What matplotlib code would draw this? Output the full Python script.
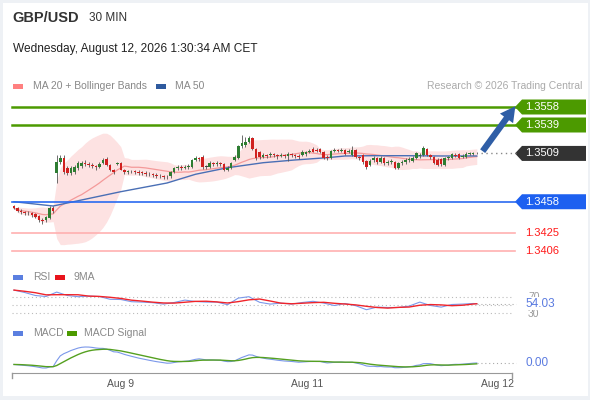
import numpy as np
import pandas as pd
import matplotlib
matplotlib.use('Agg')
import matplotlib.pyplot as plt
import matplotlib.transforms as mtransforms
from matplotlib.patches import Polygon, Rectangle

plt.rcParams['font.family'] = ['Liberation Sans', 'DejaVu Sans']

# GBP/USD 30 min candles
opens = [1.3454, 1.3451, 1.3448, 1.3447, 1.3446, 1.3446, 1.3445, 1.3443, 1.3439, 1.3439,
         1.3441, 1.3451, 1.3488, 1.3500, 1.3504, 1.3494, 1.3488, 1.3489, 1.3494, 1.3496,
         1.3499, 1.3498, 1.3497, 1.3496, 1.3495, 1.3499, 1.3503, 1.3497, 1.3492, 1.3498,
         1.3499, 1.3492, 1.3489, 1.3490, 1.3490, 1.3489, 1.3489, 1.3488, 1.3487, 1.3487,
         1.3486, 1.3485, 1.3485, 1.3484, 1.3485, 1.3489, 1.3494, 1.3495, 1.3494, 1.3495,
         1.3495, 1.3502, 1.3504, 1.3505, 1.3495, 1.3495, 1.3499, 1.3498, 1.3499, 1.3498,
         1.3492, 1.3494, 1.3502, 1.3504, 1.3517, 1.3518, 1.3521, 1.3525, 1.3514, 1.3511,
         1.3505, 1.3507, 1.3507, 1.3508, 1.3507, 1.3506, 1.3507, 1.3506, 1.3508, 1.3507,
         1.3506, 1.3507, 1.3508, 1.3511, 1.3514, 1.3513, 1.3514, 1.3511, 1.3505, 1.3504,
         1.3512, 1.3513, 1.3512, 1.3513, 1.3511, 1.3507, 1.3513, 1.3505, 1.3507, 1.3501,
         1.3497, 1.3502, 1.3504, 1.3500, 1.3504, 1.3499, 1.3500, 1.3500, 1.3494, 1.3499,
         1.3500, 1.3502, 1.3501, 1.3504, 1.3506, 1.3507, 1.3514, 1.3507, 1.3505, 1.3502,
         1.3503, 1.3497, 1.3504, 1.3504, 1.3507, 1.3508, 1.3505, 1.3505, 1.3508, 1.3508,
         1.3509]
closes = [1.3451, 1.3448, 1.3447, 1.3446, 1.3446, 1.3444, 1.3442, 1.3439, 1.3438, 1.3442,
          1.3451, 1.3448, 1.3500, 1.3504, 1.3489, 1.3488, 1.3494, 1.3495, 1.3499, 1.3499,
          1.3498, 1.3497, 1.3496, 1.3495, 1.3498, 1.3502, 1.3497, 1.3492, 1.3489, 1.3499,
          1.3492, 1.3489, 1.3490, 1.3490, 1.3489, 1.3488, 1.3488, 1.3487, 1.3487, 1.3486,
          1.3485, 1.3485, 1.3484, 1.3484, 1.3489, 1.3494, 1.3495, 1.3494, 1.3495, 1.3496,
          1.3502, 1.3504, 1.3503, 1.3495, 1.3495, 1.3499, 1.3498, 1.3499, 1.3498, 1.3492,
          1.3494, 1.3499, 1.3505, 1.3517, 1.3520, 1.3521, 1.3525, 1.3514, 1.3504, 1.3505,
          1.3507, 1.3506, 1.3508, 1.3507, 1.3506, 1.3507, 1.3506, 1.3508, 1.3507, 1.3506,
          1.3505, 1.3511, 1.3511, 1.3512, 1.3511, 1.3512, 1.3511, 1.3504, 1.3504, 1.3512,
          1.3513, 1.3512, 1.3513, 1.3508, 1.3512, 1.3513, 1.3505, 1.3504, 1.3500, 1.3495,
          1.3501, 1.3504, 1.3500, 1.3504, 1.3499, 1.3500, 1.3501, 1.3494, 1.3499, 1.3500,
          1.3502, 1.3503, 1.3504, 1.3509, 1.3507, 1.3515, 1.3507, 1.3505, 1.3499, 1.3497,
          1.3498, 1.3504, 1.3505, 1.3508, 1.3506, 1.3504, 1.3506, 1.3508, 1.3509, 1.3509,
          1.3509]
highs = [1.3455, 1.3452, 1.3450, 1.3448, 1.3448, 1.3447, 1.3446, 1.3444, 1.3441, 1.3443,
         1.3453, 1.3454, 1.3507, 1.3507, 1.3507, 1.3496, 1.3496, 1.3497, 1.3501, 1.3501,
         1.3502, 1.3500, 1.3499, 1.3497, 1.3500, 1.3504, 1.3505, 1.3498, 1.3493, 1.3500,
         1.3500, 1.3493, 1.3492, 1.3492, 1.3491, 1.3491, 1.3490, 1.3490, 1.3489, 1.3488,
         1.3488, 1.3487, 1.3486, 1.3486, 1.3490, 1.3495, 1.3497, 1.3497, 1.3497, 1.3498,
         1.3503, 1.3506, 1.3505, 1.3507, 1.3497, 1.3501, 1.3500, 1.3501, 1.3500, 1.3499,
         1.3496, 1.3500, 1.3507, 1.3518, 1.3528, 1.3526, 1.3527, 1.3526, 1.3515, 1.3512,
         1.3509, 1.3508, 1.3510, 1.3509, 1.3508, 1.3509, 1.3508, 1.3510, 1.3509, 1.3508,
         1.3508, 1.3513, 1.3512, 1.3514, 1.3516, 1.3515, 1.3515, 1.3512, 1.3507, 1.3513,
         1.3515, 1.3514, 1.3515, 1.3514, 1.3514, 1.3517, 1.3514, 1.3506, 1.3508, 1.3502,
         1.3503, 1.3506, 1.3505, 1.3506, 1.3505, 1.3502, 1.3503, 1.3501, 1.3500, 1.3502,
         1.3504, 1.3505, 1.3506, 1.3511, 1.3509, 1.3517, 1.3515, 1.3508, 1.3506, 1.3504,
         1.3504, 1.3505, 1.3506, 1.3509, 1.3509, 1.3509, 1.3508, 1.3510, 1.3511, 1.3511,
         1.3511]
lows = [1.3450, 1.3447, 1.3445, 1.3444, 1.3444, 1.3442, 1.3441, 1.3437, 1.3435, 1.3437,
        1.3440, 1.3446, 1.3478, 1.3498, 1.3487, 1.3486, 1.3486, 1.3487, 1.3492, 1.3494,
        1.3496, 1.3495, 1.3494, 1.3492, 1.3494, 1.3498, 1.3496, 1.3490, 1.3487, 1.3497,
        1.3491, 1.3487, 1.3487, 1.3488, 1.3487, 1.3486, 1.3486, 1.3485, 1.3485, 1.3484,
        1.3483, 1.3483, 1.3482, 1.3482, 1.3483, 1.3488, 1.3492, 1.3492, 1.3493, 1.3493,
        1.3494, 1.3501, 1.3501, 1.3493, 1.3493, 1.3494, 1.3496, 1.3496, 1.3496, 1.3490,
        1.3490, 1.3493, 1.3501, 1.3503, 1.3515, 1.3516, 1.3520, 1.3513, 1.3502, 1.3503,
        1.3504, 1.3504, 1.3505, 1.3505, 1.3503, 1.3505, 1.3504, 1.3501, 1.3505, 1.3504,
        1.3503, 1.3506, 1.3506, 1.3509, 1.3510, 1.3510, 1.3509, 1.3503, 1.3502, 1.3503,
        1.3510, 1.3510, 1.3511, 1.3507, 1.3509, 1.3506, 1.3504, 1.3502, 1.3498, 1.3493,
        1.3496, 1.3500, 1.3498, 1.3499, 1.3497, 1.3497, 1.3498, 1.3493, 1.3493, 1.3497,
        1.3498, 1.3500, 1.3500, 1.3503, 1.3504, 1.3506, 1.3506, 1.3503, 1.3498, 1.3496,
        1.3496, 1.3496, 1.3502, 1.3503, 1.3505, 1.3503, 1.3504, 1.3504, 1.3507, 1.3507,
        1.3508]

# MA 50 (history before the window is not shown)
ma50_idx = [0, 11, 30, 43, 51, 60, 70, 79, 88, 93, 101, 110, 120, 130]
ma50_vals = [1.3458, 1.34535, 1.34686, 1.34778, 1.3487, 1.34939, 1.34992, 1.35021,
             1.35045, 1.35063, 1.35066, 1.35066, 1.35063, 1.35063]

# RSI sampled every third candle
rsi_idx = list(range(0, 130, 3)) + [130]
rsi_vals = [88, 82, 74.5, 72, 83, 74.5, 71.5, 73, 72, 65, 64.5, 59, 58, 56.5, 53, 57, 63,
            59.5, 58, 58, 51.5, 68, 71.5, 57.5, 53, 55.5, 53, 57, 60, 55.5, 49.5, 54.5,
            49, 39, 45.5, 44.5, 44.5, 48, 58, 49.5, 45.5, 52, 53, 54.5, 54.03]

resist = [1.3558, 1.3539]
pivot = 1.3458
support = [1.3425, 1.3406]
last_price = 1.3509

tick_pos = [29.8, 82.3, 135.7]
tick_labels = ['Aug 9', 'Aug 11', 'Aug 12']

W, H = 590, 400
PX = 9474.0  # pixels per price unit in main panel


def fx(x):
    return x / W


def fy(y):
    return 1 - y / H


c = pd.Series(closes)
ma20 = c.rolling(20, min_periods=1).mean()
sd20 = c.rolling(20, min_periods=1).std(ddof=0)
macd = c.ewm(span=12, adjust=False).mean() - c.ewm(span=26, adjust=False).mean()
signal = macd.ewm(span=9, adjust=False).mean()
rsi = pd.Series(rsi_vals)
rsi_ma = rsi.rolling(3, min_periods=1).mean()

n = len(closes)
x = np.arange(n)
xlim = (-0.56, 139.9)

fig = plt.figure(figsize=(W / 100, H / 100), dpi=100, facecolor='#eef1f5')
fig.patches.append(Rectangle((fx(3), fy(396)), fx(585), 393 / H, transform=fig.transFigure,
                             facecolor='white', edgecolor='none', zorder=-5))

# header
fig.text(fx(12), fy(18), 'GBP/USD', fontsize=10.5, fontweight='bold', color='#333', va='center')
fig.text(fx(89), fy(18), '30 MIN', fontsize=8.5, color='#333', va='center')
fig.text(fx(13), fy(49), 'Wednesday, August 12, 2026 1:30:34 AM CET', fontsize=8.6, color='#222', va='center')


def legend_item(xr, y, col, label, xt):
    fig.patches.append(Rectangle((fx(xr), fy(y + 2.5)), fx(10), 5 / H, transform=fig.transFigure,
                                 facecolor=col, edgecolor='none'))
    fig.text(fx(xt), fy(y), label, fontsize=7.5, color='#888', va='center')


legend_item(13, 86, '#ff8080', 'MA 20 + Bollinger Bands', 33)
legend_item(156, 86, '#2f5a9e', 'MA 50', 175)
fig.text(fx(582), fy(86), 'Research \u00a9 2026 Trading Central', fontsize=7.5, color='#aaa',
         va='center', ha='right')
legend_item(13, 277, '#5b7fe0', 'RSI', 33)
legend_item(55, 277, '#e8141c', '9MA', 73)
legend_item(13, 333, '#5b7fe0', 'MACD', 33)
legend_item(67, 333, '#4c9a00', 'MACD Signal', 84)

# main price panel
ax = fig.add_axes([fx(12), fy(262), fx(500), (262 - 95) / H])
ax.set_xlim(*xlim)
ax.set_ylim(1.3558 - (262 - 107) / PX, 1.3558 + (107 - 95) / PX)
ax.axis('off')

ax.fill_between(x, ma20 - 2 * sd20, ma20 + 2 * sd20, color='#fde2e2', lw=0, zorder=1)
ax.plot(x, ma20, color='#f49a9a', lw=0.9, zorder=2)
ax.plot(ma50_idx, ma50_vals, color='#4a6fb5', lw=1.0, zorder=2)

for i in range(n):
    o, cl = opens[i], closes[i]
    if cl > o:
        col = '#2e7d32'
    elif cl < o:
        col = '#d0201f'
    else:
        col = '#444'
    ax.vlines(i, lows[i], highs[i], color='#555', lw=0.6, zorder=3)
    ax.bar(i, max(abs(cl - o), 0.00004), bottom=min(o, cl), width=0.72, color=col, lw=0, zorder=4)

trans = mtransforms.blended_transform_factory(ax.transAxes, ax.transData)
xa = lambda px: (px - 12) / 500.0


def tag(y, text, fc):
    h = 7.5 / PX
    ax.add_patch(Polygon([[xa(515), y], [xa(522), y + h], [xa(586), y + h], [xa(586), y - h],
                          [xa(522), y - h]], closed=True, transform=trans, facecolor=fc,
                         edgecolor='none', clip_on=False))
    ax.text(xa(525), y, text, transform=trans, color='white', fontsize=8, va='center', clip_on=False)


for lv in resist:
    ax.axhline(lv, xmin=0, xmax=xa(516), color='#4c9a00', lw=1.8, clip_on=False, zorder=2)
    tag(lv, '%.4f' % lv, '#4c9a00')
ax.axhline(pivot, xmin=0, xmax=xa(516), color='#2a6af0', lw=1.2, clip_on=False, zorder=2)
tag(pivot, '%.4f' % pivot, '#1d60f0')
for lv in support:
    ax.axhline(lv, xmin=0, xmax=xa(515), color='#ffb0b0', lw=1.2, clip_on=False, zorder=2)
    ax.text(xa(525), lv, '%.4f' % lv, transform=trans, color='#ff1a1a', fontsize=8,
            va='center', clip_on=False)

ax.plot([n + 0.3, 141], [last_price, last_price], ls=(0, (1, 2.5)), color='#888', lw=1, clip_on=False)
tag(last_price, '%.4f' % last_price, '#333333')
ax.annotate('', xy=(141.3, 1.3558 + 3 / PX), xytext=(n + 0.2, last_price), annotation_clip=False,
            arrowprops=dict(arrowstyle='simple,head_width=1.3,head_length=1.2,tail_width=0.5',
                            mutation_scale=9, color='#2f5ea6', lw=0))

# RSI panel
ar = fig.add_axes([fx(12), fy(318), fx(500), 32 / H])
ar.set_xlim(*xlim)
ar.set_ylim(18.25, 98.25)
ar.axis('off')
for lv in [70, 50, 30]:
    ar.axhline(lv, color='#bbb', lw=0.8, ls=(0, (1, 2.5)))
ar.plot(rsi_idx, rsi_vals, color='#7b98ea', lw=0.8)
ar.plot(rsi_idx, rsi_ma, color='#f0242a', lw=1.0)
ar.plot([rsi_idx[-1], 141], [rsi_vals[-1]] * 2, ls=(0, (1, 2.5)), color='#aaa', lw=0.8, clip_on=False)
tr_r = mtransforms.blended_transform_factory(ar.transAxes, ar.transData)
ar.text(xa(528), 72, '70', transform=tr_r, color='#999', fontsize=7.5, va='center', clip_on=False)
ar.text(xa(528), 28, '30', transform=tr_r, color='#999', fontsize=7.5, va='center', clip_on=False)
ar.text(xa(525), rsi_vals[-1], '%.2f' % rsi_vals[-1], transform=tr_r, color='#5b7be0', fontsize=8.5,
        va='center', clip_on=False, bbox=dict(facecolor='white', edgecolor='none', pad=0.3))

# MACD panel
am = fig.add_axes([fx(12), fy(373), fx(500), 35 / H])
am.set_xlim(*xlim)
mn, mx = min(macd.min(), signal.min()), max(macd.max(), signal.max())
am.set_ylim(mn - (mx - mn) * 5 / 21, mx + (mx - mn) * 9 / 21)
am.patch.set_alpha(0)
am.plot(x, macd, color='#7b98ea', lw=0.8)
am.plot(x, signal, color='#55a020', lw=1.0)
am.plot([n - 1, 141], [macd.iloc[-1]] * 2, ls=(0, (1, 2.5)), color='#aaa', lw=0.8, clip_on=False)
tr_m = mtransforms.blended_transform_factory(am.transAxes, am.transData)
am.text(xa(525), macd.iloc[-1], '%.2f' % abs(macd.iloc[-1]), transform=tr_m, color='#5b7be0',
        fontsize=8.5, va='center', clip_on=False)
for s in ['top', 'right', 'left']:
    am.spines[s].set_visible(False)
am.spines['bottom'].set_color('#999')
am.set_yticks([])
am.set_xticks(tick_pos, tick_labels)
am.tick_params(axis='x', length=0, pad=4, labelsize=7.5, labelcolor='#555')
for xe in [0, 1]:
    am.plot([xe, xe], [0, -5 / 35], transform=am.transAxes, color='#999', lw=1, clip_on=False)

fig.savefig('out.png', dpi=100, facecolor=fig.get_facecolor())
